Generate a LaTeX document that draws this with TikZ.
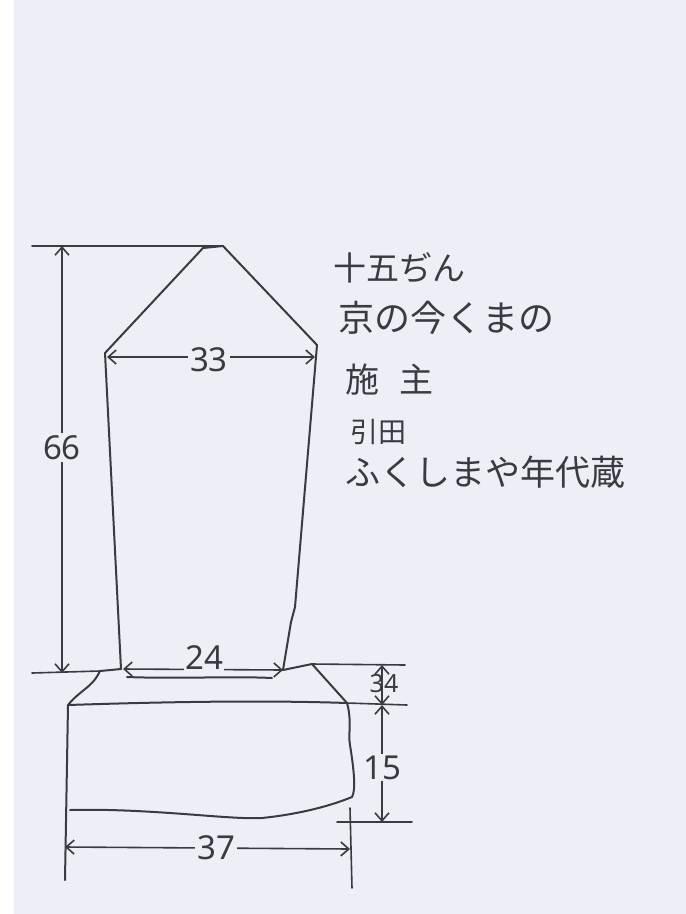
\documentclass[tikz,border=0pt]{standalone}
\usepackage{fontspec}
\newfontfamily\jpfont{Noto Sans CJK JP}
\newfontfamily\numfont{Noto Sans}
\usetikzlibrary{arrows.meta}
\definecolor{paper}{HTML}{ECEFF5}
\definecolor{pencil}{HTML}{3A3B40}
\begin{document}
\begin{tikzpicture}[x=1pt,y=-1pt,
  pen/.style={draw=pencil,line width=2pt,line join=round,line cap=round},
  thin/.style={draw=pencil,line width=1.6pt,line cap=round},
  dimarrow/.style={thin,{Straight Barb[length=8pt,width=14pt]}-{Straight Barb[length=8pt,width=14pt]}},
  numlabel/.style={fill=paper,inner sep=2pt,text=pencil,font=\numfont\fontsize{33}{33}\selectfont},
  smalllabel/.style={text=pencil,inner sep=1pt,font=\numfont\fontsize{25}{25}\selectfont},
  note/.style={anchor=west,text=pencil,inner sep=0pt,font=\jpfont\fontsize{34}{34}\selectfont}]
% paper
\useasboundingbox (0,0) rectangle (686,914);
\fill[white] (0,0) rectangle (686,914);
\fill[paper] (14,0) rectangle (686,914);

% ---- stele outline
\coordinate (apexL) at (203,248);
\coordinate (apexR) at (223,246);
\coordinate (shL) at (105,353);
\coordinate (shR) at (317,345);
\coordinate (ftL) at (121,669);
\coordinate (ftR) at (283,670);
\draw[pen] (ftL) -- (shL) -- (apexL) -- (apexR) -- (shR) -- (295,607) -- (291,622) -- (ftR);
% ragged foot of the stele
\draw[pen] (127,677) .. controls (180,679) and (230,676) .. (272,678);

% ---- base
\coordinate (bTL) at (100,671);
\coordinate (bTR) at (312,664);
\coordinate (bML) at (68,705);
\coordinate (bMR) at (347,703);
\coordinate (bBR) at (352,797);
\coordinate (bBL) at (70,810);
\draw[pen] (bML) .. controls (80,690) and (92,688) .. (bTL) -- (ftL);
\draw[pen] (ftR) -- (bTR) -- (bMR);
\draw[pen] (bML) .. controls (160,702) and (260,700) .. (bMR);
\draw[pen] (bMR) .. controls (352,720) and (348,735) .. (350,745)
  .. controls (354,770) and (356,790) .. (bBR);
\draw[pen] (bBL) .. controls (150,808) and (230,820) .. (262,818)
  .. controls (300,814) and (330,806) .. (bBR);
% left side of the base, running on as an extension line
\coordinate (eBL) at (65,880);
\draw[pen] (bML) -- (eBL);

% ---- extension lines
\coordinate (topEndL) at (32,246);
\coordinate (botEndL) at (32,673);
\draw[thin] (topEndL) -- (apexR);
\draw[thin] (botEndL) -- (bTL);
\coordinate (eTopR) at (405,665);
\coordinate (eMidR) at (407,705);
\coordinate (eBotR) at (412,822);
\coordinate (eBotRs) at (337,822);
\draw[thin] (bTR) -- (eTopR);
\draw[thin] (bMR) -- (eMidR);
\draw[thin] (eBotRs) -- (eBotR);
\coordinate (eRB1) at (350,808);
\coordinate (eRB2) at (352,888);
\draw[thin] (eRB1) -- (eRB2);

% ---- dimensions
\coordinate (d66a) at (62,246);
\coordinate (d66b) at (62,673);
\draw[dimarrow] (d66a) -- (d66b) node[numlabel,midway,yshift=12pt] {66};

\coordinate (d33a) at (107,357);
\coordinate (d33b) at (315,357);
\draw[dimarrow] (d33a) -- (d33b) node[numlabel,pos=0.49,yshift=-3pt] {33};

\coordinate (d24a) at (123,669);
\coordinate (d24b) at (283,670);
\draw[dimarrow] (d24a) -- (d24b);
\node[numlabel,inner sep=1pt] (l24) at (204,658) {24};

\coordinate (d37a) at (65,847);
\coordinate (d37b) at (350,849);
\draw[dimarrow] (d37a) -- (d37b) node[numlabel,pos=0.53] {37};

\coordinate (d34a) at (382,665);
\coordinate (d34b) at (382,705);
\draw[dimarrow] (d34a) -- (d34b);
\node[smalllabel] (l34) at (384,684) {34};

\coordinate (d15a) at (382,705);
\coordinate (d15b) at (382,822);
\draw[dimarrow] (d15a) -- (d15b) node[numlabel,midway,yshift=-4pt] {15};

% ---- inscription notes
\node[note,font=\jpfont\fontsize{33}{33}\selectfont] (n1) at (333,268) {十五ぢん};
\node[note,font=\jpfont\fontsize{36}{36}\selectfont] (n2) at (338,318) {京の今くまの};
\node[note] (n3) at (345,380) {施\hspace{0.6em}主};
\node[note,font=\jpfont\fontsize{28}{28}\selectfont] (n4) at (350,432) {引田};
\node[note,font=\jpfont\fontsize{35}{35}\selectfont] (n5) at (345,472) {ふくしまや年代蔵};
\end{tikzpicture}
\end{document}
